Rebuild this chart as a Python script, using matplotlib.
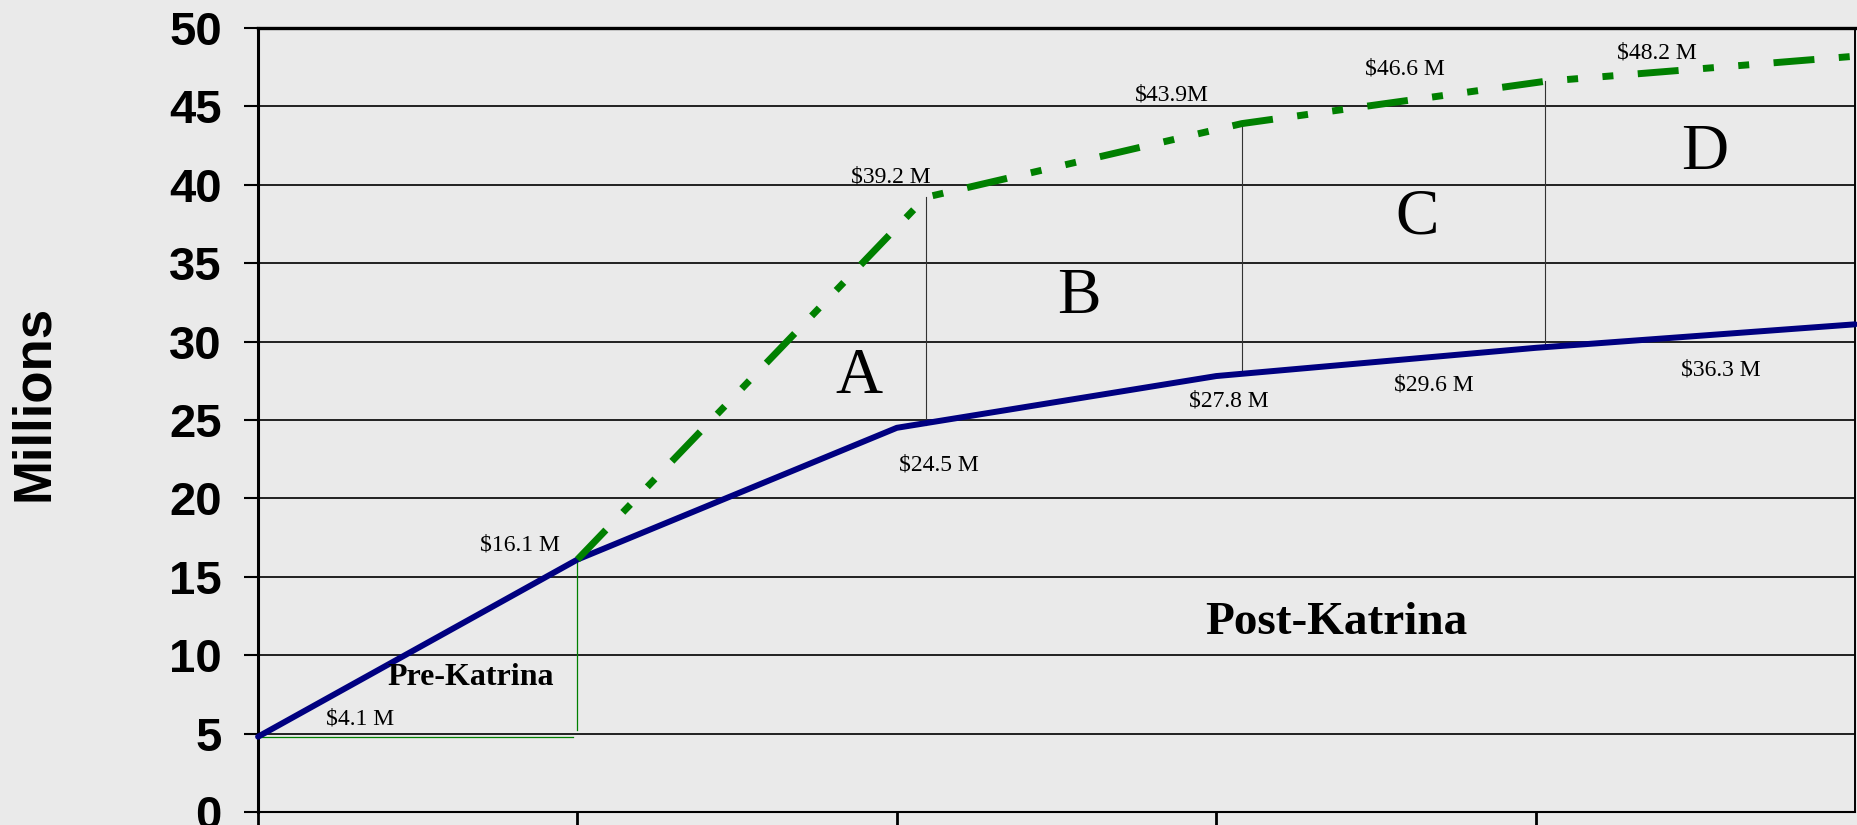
import matplotlib.pyplot as plt

# -----------------------------
# Data (millions of dollars)
# -----------------------------
periods = [0, 1, 2, 3, 4, 5]
actual = [4.8, 16.1, 24.5, 27.8, 29.6, 31.1]

proj_periods = [1, 2.09, 3.08, 4.03, 5]
projected = [16.1, 39.2, 43.9, 46.6, 48.2]

pre_base = 4.8

value_labels = ["$4.1 M", "$16.1 M", "$39.2 M", "$24.5 M", "$43.9M",
                "$27.8 M", "$46.6 M", "$29.6 M", "$48.2 M", "$36.3 M"]
value_label_pos = [(0.32, 5.9), (0.82, 17.0), (1.98, 40.5), (2.13, 22.1), (2.86, 45.7),
                   (3.04, 26.2), (3.59, 47.4), (3.68, 27.2), (4.38, 48.4), (4.58, 28.2)]

zone_letters = ["A", "B", "C", "D"]
zone_pos = [(1.88, 27.7), (2.57, 32.8), (3.63, 37.9), (4.53, 42.0)]

BG = "#eaeaea"
plt.rcParams["lines.scale_dashes"] = False

fig = plt.figure(figsize=(18.58, 8.25), dpi=100, facecolor=BG)
ax = fig.add_axes([0.1389, 0.0158, 0.8595, 0.9503])
ax.set_facecolor(BG)

ax.set_xlim(0, 5)
ax.set_ylim(0, 50)

# horizontal grid
ax.set_yticks(range(0, 51, 5))
ax.yaxis.grid(True, color="#111111", linewidth=1.3)
ax.set_axisbelow(True)
ax.set_xticks([0, 1, 2, 3, 4])
ax.set_xticklabels([])

for lbl in ax.get_yticklabels():
    lbl.set_fontfamily("Liberation Sans")
    lbl.set_fontweight("bold")
    lbl.set_fontsize(34)
ax.tick_params(axis="y", length=10, width=1.5, pad=16, colors="black")
ax.tick_params(axis="x", length=12, width=2, colors="black")

ax.spines["left"].set_linewidth(2.2)
ax.spines["top"].set_linewidth(2.4)
ax.spines["bottom"].set_linewidth(1.5)
ax.spines["right"].set_linewidth(1.4)

ax.set_ylabel("Millions", fontfamily="Liberation Sans", fontweight="bold",
              fontsize=38, labelpad=79, y=0.522)

# pre-Katrina bracket
ax.plot([0, 0.985], [pre_base, pre_base], color="#008000", linewidth=0.9)
ax.plot([1, 1], [pre_base + 0.4, actual[1]], color="#008000", linewidth=0.9)

# connectors between the two curves
for i in (1, 2, 3):
    ax.plot([proj_periods[i], proj_periods[i]], [actual[i + 1] + 0.2, projected[i]],
            color="#333333", linewidth=0.8)

ax.plot(periods, actual, color="#000080", linewidth=4.3, solid_capstyle="round",
        zorder=3, clip_on=False)
proj_line, = ax.plot(proj_periods, projected, color="#008000", linewidth=5.0,
                     zorder=4, clip_on=False)
proj_line.set_dashes([29.5, 17.6, 7.9, 17.6, 7.9, 17.6])

for txt, (x, y) in zip(value_labels, value_label_pos):
    ax.text(x, y, txt, fontfamily="Liberation Serif", fontsize=17,
            ha="center", va="center")

for txt, (x, y) in zip(zone_letters, zone_pos):
    ax.text(x, y, txt, fontfamily="Liberation Serif", fontsize=47,
            ha="center", va="center")

ax.text(0.667, 8.6, "Pre-Katrina", fontfamily="Liberation Serif", fontweight="bold",
        fontsize=23, ha="center", va="center")
ax.text(3.375, 12.05, "Post-Katrina", fontfamily="Liberation Serif", fontweight="bold",
        fontsize=34, ha="center", va="center")

fig.savefig("out.png", dpi=100, facecolor=BG)
